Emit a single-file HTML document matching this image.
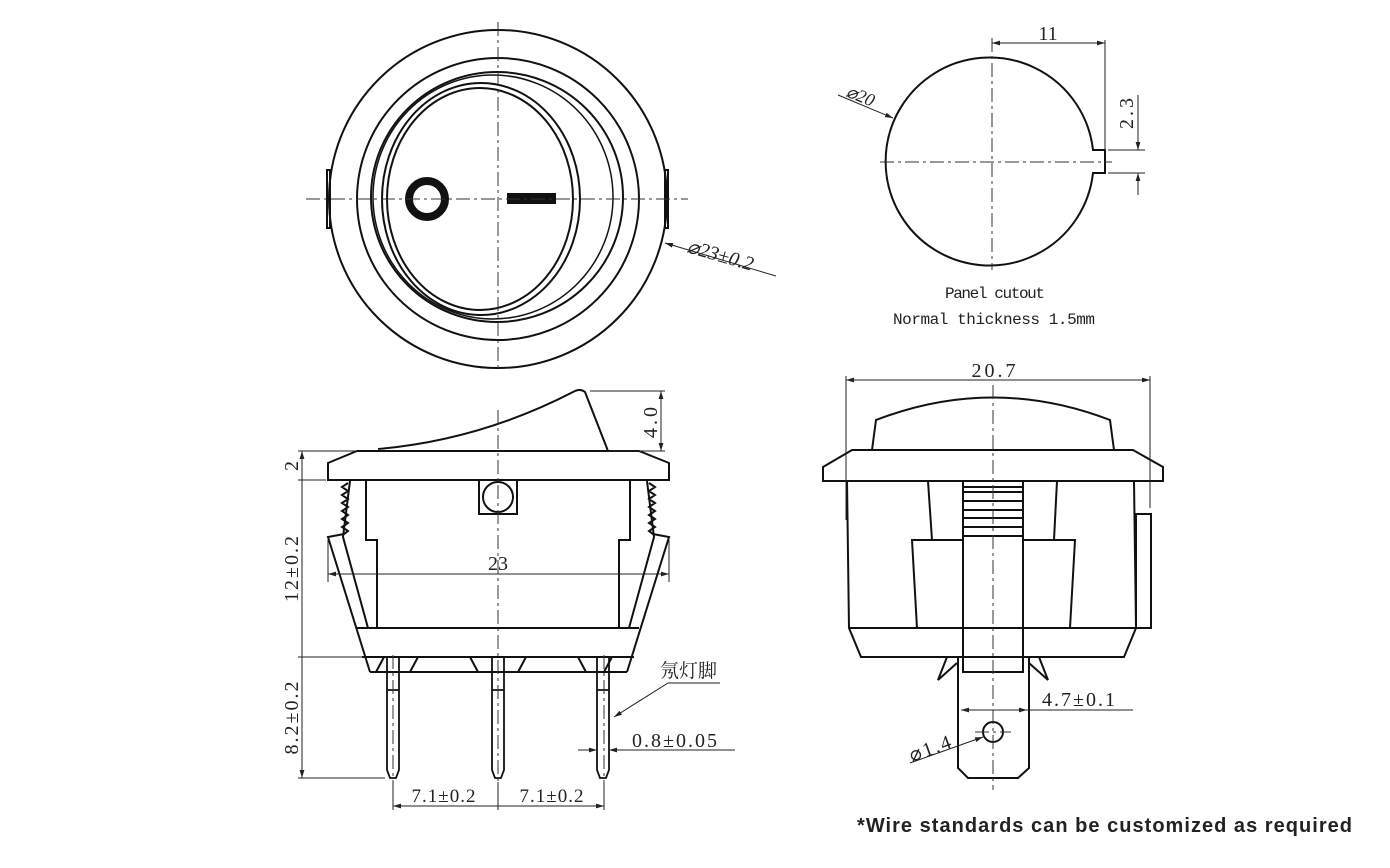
<!DOCTYPE html>
<html><head><meta charset="utf-8"><style>
body{margin:0;background:#fff;width:1390px;height:863px;overflow:hidden}
svg text{font-family:"Liberation Serif","Noto Serif CJK SC",serif;fill:#222}
.m{font-family:"Liberation Mono","DejaVu Sans Mono",monospace}
</style></head><body>
<svg width="1390" height="863" viewBox="0 0 1390 863" xmlns="http://www.w3.org/2000/svg">
<defs>
<marker id="a" viewBox="0 0 10 10" refX="10" refY="5" markerWidth="8" markerHeight="8" orient="auto-start-reverse"><path d="M0,2 L10,5 L0,8z" fill="#222"/></marker>
</defs>
<g fill="none" stroke="#111" stroke-width="2">
<!-- top view -->
<circle cx="498" cy="199" r="169"/>
<circle cx="498" cy="199" r="141"/>
<ellipse cx="497" cy="197" rx="126" ry="125"/>
<ellipse cx="493" cy="197" rx="120" ry="122" stroke-width="1.5"/>
<ellipse cx="481" cy="199" rx="99" ry="116"/>
<ellipse cx="480" cy="199" rx="93" ry="111"/>
<rect x="327" y="170" width="3" height="58"/>
<rect x="665" y="170" width="3" height="58"/>
<circle cx="427" cy="199" r="18" stroke-width="8"/>
<rect x="508" y="194" width="47" height="9" fill="#111"/>
<!-- panel cutout -->
<path d="M1093,150 A104,104 0 1 0 1093,173 L1105,173 L1105,150 Z"/>
<!-- left side view -->
<path d="M378,449 Q480,440 573,392 Q580,388 585,392 L608,451"/>
<path d="M328,463 L357,451 L639,451 L669,463 L669,480 L328,480 Z"/>
<rect x="479" y="480" width="38" height="34"/>
<circle cx="498" cy="497" r="15"/>
<path d="M366,480 L366,540 L377,540 L377,628 M630,480 L630,540 L619,540 L619,628"/>
<path d="M350,481 L343,537 L368,628 M647,481 L654,537 L629,628"/>
<path d="M348,483 l-6,4 l6,4 l-6,4 l6,4 l-6,4 l6,4 l-6,4 l6,4 l-6,4 l6,4 l-6,4 l6,4 l-4,3 L328,537 L370,672 M649,483 l6,4 l-6,4 l6,4 l-6,4 l6,4 l-6,4 l6,4 l-6,4 l6,4 l-6,4 l6,4 l-6,4 l4,3 L669,537 L627,672"/>
<path d="M357,628 L639,628 M362,657 L634,657 M370,672 L627,672"/>
<path d="M384,657 L376,672 M418,657 L410,672 M470,657 L478,672 M526,657 L518,672 M578,657 L586,672 M612,657 L604,672"/>
<g stroke-width="1.8">
<path d="M387,657 L387,770 L390,778 L396,778 L399,770 L399,657 M387,672 L399,672 M387,690 L399,690"/>
<path d="M492,657 L492,770 L495,778 L501,778 L504,770 L504,657 M492,672 L504,672 M492,690 L504,690"/>
<path d="M597,657 L597,770 L600,778 L606,778 L609,770 L609,657 M597,672 L609,672 M597,690 L609,690"/>
</g>
<!-- right side view -->
<path d="M872,450 L876,420 Q993,375 1110,420 L1114,450"/>
<path d="M823,467 L852,450 L1133,450 L1163,467 L1163,481 L823,481 Z"/>
<path d="M847,481 L849,628 L861,657 L1124,657 L1136,628 L1134,481"/>
<path d="M849,628 L1136,628"/>
<rect x="1136" y="514" width="15" height="114"/>
<path d="M928,481 L932,540 M1057,481 L1054,540"/>
<path d="M963,540 L912,540 L917,628 M1024,540 L1075,540 L1070,628"/>
<rect x="963" y="481" width="60" height="191"/>
<path d="M963,487 H1023 M963,492 H1023 M963,501 H1023 M963,510 H1023 M963,518 H1023 M963,527 H1023 M963,536 H1023"/>
<path d="M958,657 L958,768 L968,778 L1018,778 L1029,768 L1029,657"/>
<path d="M947,657 L938,680 L957,663 M1039,657 L1048,680 L1029,663"/>
<circle cx="993" cy="732" r="10"/>
</g>
<!-- center lines -->
<g stroke="#333" stroke-width="1" stroke-dasharray="14,4,3,4" fill="none">
<path d="M498,22 V370 M306,199 H688"/>
<path d="M992,38 V270 M880,162 H1112"/>
<path d="M498,410 V790 M993,385 V790"/>
<path d="M393,655 V785 M604,655 V785 M975,732 H1011"/>
</g>
<!-- dimensions -->
<g stroke="#222" stroke-width="1" fill="none">
<path d="M665,243 L776,276" marker-start="url(#a)"/>
<path d="M838,95 L893,118" marker-end="url(#a)"/>
<path d="M992,43 H1105" marker-start="url(#a)" marker-end="url(#a)"/>
<path d="M1105,40 V150 M1108,150 H1145 M1108,173 H1145"/>
<path d="M1138,95 V150" marker-end="url(#a)"/><path d="M1138,195 V173" marker-end="url(#a)"/>
<path d="M846,380 H1150" marker-start="url(#a)" marker-end="url(#a)"/>
<path d="M846,376 V520 M1150,376 V508"/>
<path d="M590,391 H665 M610,451 H665"/><path d="M661,391 V451" marker-start="url(#a)" marker-end="url(#a)"/>
<path d="M298,451 H357 M298,480 H326 M298,657 H362 M298,778 H385"/>
<path d="M302,451 V480 M302,480 V657 M302,657 V778" marker-start="url(#a)" marker-end="url(#a)"/>
<path d="M328,540 V582 M669,540 V582"/>
<path d="M328,574 H669" marker-start="url(#a)" marker-end="url(#a)"/>
<path d="M393,782 V810 M498,782 V810 M604,782 V810"/>
<path d="M393,806 H498 M498,806 H604" marker-start="url(#a)" marker-end="url(#a)"/>
<path d="M720,683 H668 L614,717" marker-end="url(#a)"/>
<path d="M578,750 H597" marker-end="url(#a)"/><path d="M735,750 H609" marker-end="url(#a)"/>
<path d="M961,710 H1027" marker-start="url(#a)" marker-end="url(#a)"/><path d="M1027,710 H1133"/>
<path d="M910,763 L983,737" marker-end="url(#a)"/>
</g>
<!-- texts -->
<g font-size="20">
<text x="686" y="252" transform="rotate(16 686 252)" font-style="italic">⌀23±0.2</text>
<text x="845" y="96" transform="rotate(22 845 96)" font-style="italic" font-size="18">⌀20</text>
<text x="1048" y="40" text-anchor="middle">11</text>
<text x="1133" y="112" transform="rotate(-90 1133 112)" text-anchor="middle" letter-spacing="3">2.3</text>
<text x="995" y="377" text-anchor="middle" letter-spacing="3">20.7</text>
<text x="657" y="421" transform="rotate(-90 657 421)" text-anchor="middle" letter-spacing="3">4.0</text>
<text x="298" y="466" transform="rotate(-90 298 466)" text-anchor="middle">2</text>
<text x="298" y="568" transform="rotate(-90 298 568)" text-anchor="middle" letter-spacing="2">12±0.2</text>
<text x="298" y="717" transform="rotate(-90 298 717)" text-anchor="middle" letter-spacing="2">8.2±0.2</text>
<text x="498" y="570" text-anchor="middle">23</text>
<text x="444" y="802" text-anchor="middle" font-size="19" letter-spacing="1">7.1±0.2</text>
<text x="552" y="802" text-anchor="middle" font-size="19" letter-spacing="1">7.1±0.2</text>
<text x="660" y="677" font-size="19">氖灯脚</text>
<text x="632" y="747" letter-spacing="2">0.8±0.05</text>
<text x="1042" y="706" letter-spacing="2">4.7±0.1</text>
<text x="912" y="762" transform="rotate(-20 912 762)" letter-spacing="2">⌀1.4</text>
</g>
<text class="m" x="995" y="298" text-anchor="middle" font-size="16" textLength="100">Panel cutout</text>
<text class="m" x="994" y="324" text-anchor="middle" font-size="16" textLength="202">Normal thickness 1.5mm</text>
<text x="857" y="832" style="font-family:'Liberation Sans',sans-serif;font-weight:bold" font-size="20" textLength="495">*Wire standards can be customized as required</text>
</svg>
</body></html>
